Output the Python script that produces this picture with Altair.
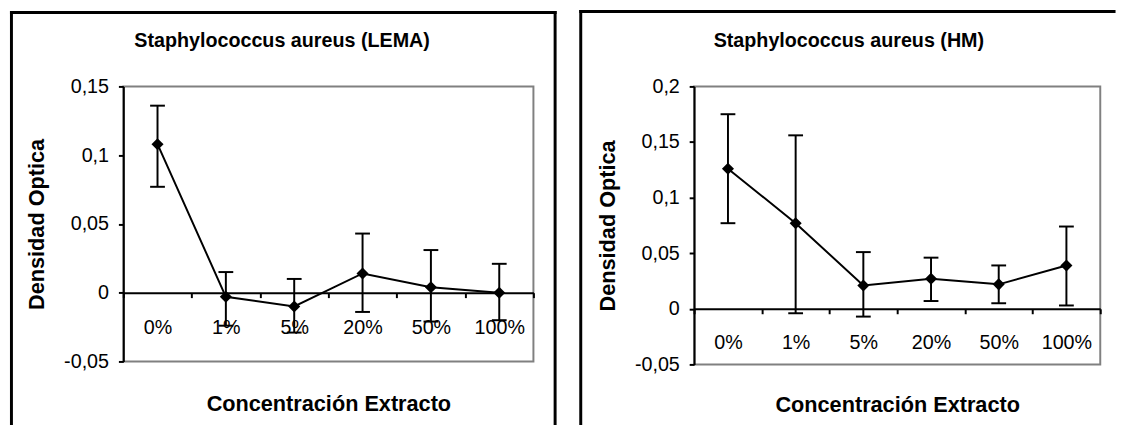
import altair as alt
import pandas as pd

# ---------------- data ----------------
categories = ["0%", "1%", "5%", "20%", "50%", "100%"]

lema_mean = [0.108, -0.003, -0.010, 0.014, 0.004, 0.000]
lema_low = [0.077, -0.024, -0.029, -0.014, -0.021, -0.020]
lema_high = [0.136, 0.015, 0.010, 0.043, 0.031, 0.021]

hm_mean = [0.126, 0.077, 0.021, 0.027, 0.022, 0.039]
hm_low = [0.077, -0.004, -0.007, 0.007, 0.005, 0.003]
hm_high = [0.175, 0.156, 0.051, 0.046, 0.039, 0.074]

lema_ticks = [-0.05, 0, 0.05, 0.1, 0.15]
hm_ticks = [-0.05, 0, 0.05, 0.1, 0.15, 0.2]

panel_titles = ["Staphylococcus aureus (LEMA)", "Staphylococcus aureus (HM)"]
y_title = "Densidad Optica"
x_title = "Concentración Extracto"

FONT = "Liberation Sans"
LABEL_EXPR = "replace(replace(format(datum.value, '.2~f'), '.', ','), '\u2212', '-')"


def panel(mean, low, high, ticks, ymin, ymax, w, h, title, tx, ty, ytx, xty,
          lab_pad, fl, ft, fr, fb, right_side):
    df = pd.DataFrame({"conc": categories, "mean": mean, "low": low, "high": high})
    zero_off = h * (0 - ymin) / (ymax - ymin)

    xaxis = alt.Axis(
        title=x_title, titleX=w / 2, titleY=xty, titleAlign="center",
        titleBaseline="alphabetic", titleFontSize=22, titleFontWeight="bold",
        labelAngle=0, labelFontSize=20, labelBaseline="alphabetic",
        labelPadding=lab_pad, labelAlign="center", tickBand="extent",
        tickSize=5, tickWidth=2, tickColor="black", domainColor="black",
        domainWidth=2, offset=-zero_off, grid=False,
    )
    x = alt.X("conc:N", sort=categories,
              scale=alt.Scale(type="band", paddingInner=0, paddingOuter=0),
              axis=xaxis)
    yaxis = alt.Axis(
        values=ticks, labelExpr=LABEL_EXPR, title=y_title, titleX=ytx,
        titleY=h / 2, titleAngle=270, titleAlign="center",
        titleBaseline="middle", titleFontSize=22, titleFontWeight="bold",
        labelFontSize=20, labelPadding=10, tickSize=5, tickWidth=2,
        tickColor="black", domainColor="black", domainWidth=2, grid=False,
    )
    yscale = alt.Scale(domain=[ymin, ymax], nice=False, zero=False)

    def y(field):
        return alt.Y(field + ":Q", scale=yscale, axis=yaxis)

    base = alt.Chart(df)
    bars = base.mark_rule(color="black", strokeWidth=2).encode(
        x=x, y=y("low"), y2="high")
    caps = base.transform_fold(["low", "high"], as_=["end", "v"]).mark_tick(
        color="black", size=15, thickness=2, opacity=1).encode(x=x, y=y("v"))
    line = base.mark_line(color="black", strokeWidth=2).encode(x=x, y=y("mean"))
    pts = base.mark_point(shape="diamond", filled=True, color="black",
                          size=150, opacity=1).encode(x=x, y=y("mean"))

    one = alt.Data(values=[{}])
    frame_style = dict(color="black", strokeWidth=3, strokeCap="square")
    layers = [
        alt.Chart(one).mark_rule(**frame_style).encode(
            x=alt.value(fl), y=alt.value(ft), y2=alt.value(fb)),
        alt.Chart(one).mark_rule(**frame_style).encode(
            x=alt.value(fl), x2=alt.value(fr), y=alt.value(ft)),
    ]
    if right_side:
        layers.append(alt.Chart(one).mark_rule(**frame_style).encode(
            x=alt.value(fr), y=alt.value(ft), y2=alt.value(fb)))
    title_txt = alt.Chart(one).mark_text(
        text=title, font=FONT, fontSize=20, fontWeight="bold", align="center",
        baseline="alphabetic", color="black").encode(
        x=alt.value(tx), y=alt.value(ty))
    return alt.layer(*layers, title_txt, bars, caps, line, pts).properties(
        width=w, height=h)


left = panel(lema_mean, lema_low, lema_high, lema_ticks, -0.05, 0.15, 416, 279,
             panel_titles[0], 161, -40, -88, 120, 36,
             -113.5, -75, 438, 342, True)
right = panel(hm_mean, hm_low, hm_high, hm_ticks, -0.05, 0.2, 412, 282,
              panel_titles[1], 157, -40, -88, 104, 35,
              -115, -76, 426, 342, False)

chart = alt.hconcat(left, right, spacing=18).properties(
    padding={"left": 0, "top": -3.5, "right": 0, "bottom": 0},
    background="white",
).configure_view(
    stroke="#808080", strokeWidth=2
).configure_axis(
    labelFont=FONT, titleFont=FONT, labelColor="black", titleColor="black"
)

chart.save("out.html", embed_options={"renderer": "svg", "actions": False})
